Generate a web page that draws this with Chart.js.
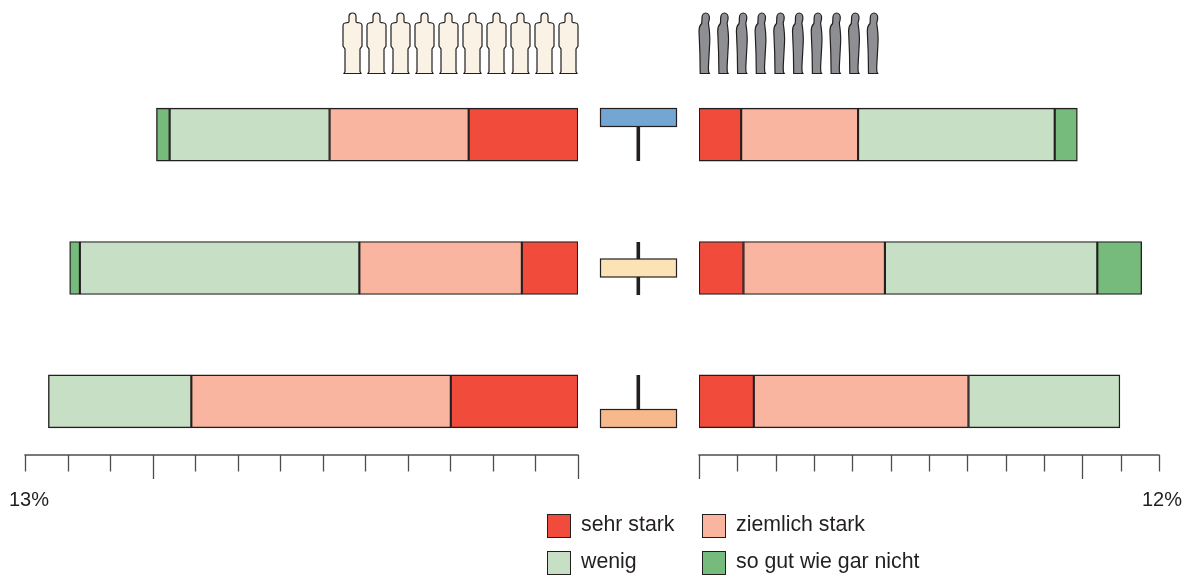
<!DOCTYPE html>
<html>
<head>
<meta charset="utf-8">
<script src="https://cdn.jsdelivr.net/npm/chart.js@4/dist/chart.umd.min.js"></script>
<style>
  html, body { margin: 0; padding: 0; background: #fff; }
  body { width: 1192px; height: 577px; position: relative; overflow: hidden; font-family: "Liberation Sans", Arial, sans-serif; color: #231f20; }
  canvas { position: absolute; top: 0; }
  #icons { position: absolute; left: 0; top: 0; }
  .swatch { position: absolute; width: 22px; height: 22px; border: 1px solid #231f20; }
  .label { position: absolute; font-size: 21.3px; line-height: 24px; white-space: nowrap; }
</style>
</head>
<body>
<canvas id="left-chart" width="590" height="541" style="left:0"></canvas>
<canvas id="right-chart" width="602" height="541" style="left:590px"></canvas>
<svg id="icons" width="1192" height="577" xmlns="http://www.w3.org/2000/svg"></svg>
<div id="legend"></div>

<script>
// one row per group, top to bottom
const groups = ['Gruppe 1', 'Gruppe 2', 'Gruppe 3'];
const levels = ['sehr stark', 'ziemlich stark', 'wenig', 'so gut wie gar nicht'];
const levelColors = ['#f04b3b', '#f9b5a0', '#c7dfc5', '#76bb7c'];

const leftSehrStark = [2.57, 1.32, 2.99];
const leftZiemlich = [3.27, 3.82, 6.10];
const leftWenig = [3.76, 6.57, 3.36];
const leftGarNicht = [0.31, 0.24, null];

const rightSehrStark = [1.10, 1.16, 1.43];
const rightZiemlich = [3.05, 3.69, 5.60];
const rightWenig = [5.13, 5.54, 3.95];
const rightGarNicht = [0.59, 1.16, null];

const leftMax = 13;
const rightMax = 12;
const longTicks = [0, 10];

const lineColor = '#231f20';
const axisColor = '#4d4d4f';

// the axis sits above the bottom of the last band, so it is drawn from the scale here
const axisPlugin = {
  id: 'hangingAxis',
  afterDraw(chart) {
    let ctx = chart.ctx;
    let scale = chart.scales.x;
    let y = 455;
    ctx.save();
    ctx.strokeStyle = axisColor;
    ctx.lineWidth = 1.3;
    ctx.beginPath();
    ctx.moveTo(scale.left - 0.6, y);
    ctx.lineTo(scale.right + 0.6, y);
    ctx.stroke();
    scale.ticks.forEach(tick => {
      let x = Math.round(scale.getPixelForValue(tick.value)) + 0.5;
      ctx.beginPath();
      ctx.moveTo(x, y);
      ctx.lineTo(x, longTicks.includes(tick.value) ? 479 : 471.5);
      ctx.stroke();
    });
    ctx.restore();
  }
};

function makeChart(id, series, max, reverse, padding, labelOffset) {
  new Chart(document.getElementById(id), {
    type: 'bar',
    plugins: [axisPlugin],
    data: {
      labels: groups,
      datasets: series.map((values, i) => ({
        label: levels[i],
        data: values,
        backgroundColor: levelColors[i],
        borderColor: lineColor,
        borderWidth: 1.4,
        borderSkipped: false,
        barThickness: 53
      }))
    },
    options: {
      indexAxis: 'y',
      responsive: false,
      animation: false,
      layout: { padding: padding },
      plugins: { legend: { display: false }, tooltip: { enabled: false } },
      scales: {
        y: { stacked: true, display: false, grid: { display: false } },
        x: {
          stacked: true,
          min: 0,
          max: max,
          reverse: reverse,
          border: { display: false },
          grid: { display: false, drawTicks: false },
          // the layout padding alone should set the plot width
          afterFit(scale) {
            scale.paddingLeft = 0;
            scale.paddingRight = 0;
          },
          ticks: {
            stepSize: 1,
            autoSkip: false,
            maxRotation: 0,
            padding: 20,
            labelOffset: labelOffset,
            color: lineColor,
            font: { family: '"Liberation Sans", Arial, sans-serif', size: 20 },
            callback: value => value === max ? max + '%' : ''
          }
        }
      }
    }
  });
}

makeChart('left-chart', [leftSehrStark, leftZiemlich, leftWenig, leftGarNicht], leftMax, true,
  { left: 25, right: 12, top: 68, bottom: 9 }, 4);
makeChart('right-chart', [rightSehrStark, rightZiemlich, rightWenig, rightGarNicht], rightMax, false,
  { left: 109, right: 33, top: 68, bottom: 9 }, 3);

// little people on top and the three symbols in the middle
const frontPerson = 'M-3.5,3.5 A3.5,3.5 0 0 1 3.5,3.5 L3.5,8.5 Q3.5,9.7 5,9.7 L7.5,10 Q9.5,10.3 9.5,12.5 L9.5,33 L7.5,36 L7.5,58.5 L8.5,60.5 L-8.5,60.5 L-7.5,58.5 L-7.5,36 L-9.5,33 L-9.5,12.5 Q-9.5,10.3 -7.5,10 L-5,9.7 Q-3.5,9.7 -3.5,8.5 Z';
const sidePerson = 'M-3.7,4.5 A3.7,4.5 0 0 1 3.7,4.5 Q3.7,7.5 2.7,10 Q4.5,22 4,30 L2.7,54 L2.9,59 L3.7,60.5 L-5.5,60.5 L-5.8,40 L-6.7,18 Q-6.7,13 -4,10.5 Q-3.7,7 -3.7,4.5 Z';

let svg = '';
for (let i = 0; i < 10; i++) {
  svg += `<path transform="translate(${352.5 + i * 24},13)" d="${frontPerson}" fill="#fbf2e6" stroke="${lineColor}" stroke-width="1.2"/>`;
  svg += `<path transform="translate(${705.7 + i * 18.7},13)" d="${sidePerson}" fill="#8e8f92" stroke="${lineColor}" stroke-width="1.2"/>`;
}
const symbols = [
  { color: '#73a6d2', boxTop: 108.5, stemTop: 127, stemBottom: 161 },
  { color: '#fbe3b6', boxTop: 259, stemTop: 242, stemBottom: 295 },
  { color: '#f7b88c', boxTop: 409.5, stemTop: 375, stemBottom: 409 }
];
symbols.forEach(s => {
  svg += `<rect x="636.5" y="${s.stemTop}" width="3.6" height="${s.stemBottom - s.stemTop}" fill="${lineColor}"/>`;
  svg += `<rect x="600.5" y="${s.boxTop}" width="76" height="18" fill="${s.color}" stroke="${lineColor}" stroke-width="1.2"/>`;
});
document.getElementById('icons').innerHTML = svg;

// legend, two columns
const legendX = [[547, 581], [702, 736]];
const legendY = [514, 551];
let legendHtml = '';
levels.forEach((name, i) => {
  let col = i % 2;
  let row = Math.floor(i / 2);
  legendHtml += `<div class="swatch" style="left:${legendX[col][0]}px;top:${legendY[row]}px;background:${levelColors[i]}"></div>`;
  legendHtml += `<div class="label" style="left:${legendX[col][1]}px;top:${legendY[row] - 2}px">${name}</div>`;
});
document.getElementById('legend').innerHTML = legendHtml;
</script>
</body>
</html>
